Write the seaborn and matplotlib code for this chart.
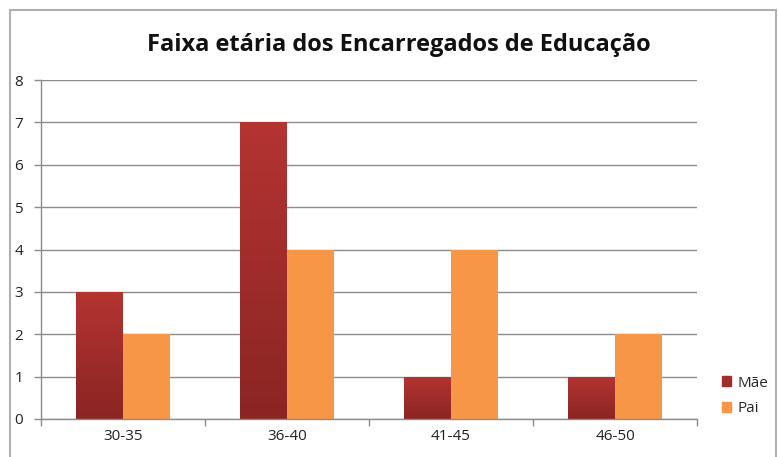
import matplotlib
matplotlib.use("Agg")
import matplotlib.pyplot as plt
import matplotlib.patches as mpatches
from matplotlib.colors import LinearSegmentedColormap
import numpy as np
import pandas as pd
import seaborn as sns

categories = ["30-35", "36-40", "41-45", "46-50"]
mae = [3, 7, 1, 1]
pai = [2, 4, 4, 2]
series_names = ["Mãe", "Pai"]
title = "Faixa etária dos Encarregados de Educação"

df = pd.DataFrame({
    "Faixa": categories * 2,
    "Valor": mae + pai,
    "Série": [series_names[0]] * len(categories) + [series_names[1]] * len(categories),
})

sns.set_theme(style="white")
plt.rcParams["font.family"] = ["Open Sans", "DejaVu Sans"]

fig = plt.figure(figsize=(7.78, 4.57), dpi=100)
ax = fig.add_axes([41 / 778, 1 - 419 / 457, 656 / 778, 339 / 457])

palette = {"Mãe": "#A02D2A", "Pai": "#F79646"}
sns.barplot(data=df, x="Faixa", y="Valor", hue="Série", palette=palette,
            width=0.57, ax=ax, legend=False, saturation=1, edgecolor="none")

# gradient on Mãe bars
grad = np.linspace(0, 1, 256).reshape(-1, 1)
cmap = LinearSegmentedColormap.from_list("mae", ["#8A2523", "#B43431"])
n = len(categories)
for p in ax.patches[:n]:
    x0, y0 = p.get_x(), p.get_y()
    w, h = p.get_width(), p.get_height()
    im = ax.imshow(grad, cmap=cmap, extent=[x0, x0 + w, y0, y0 + h],
                   origin="lower", aspect="auto", zorder=p.get_zorder() + 0.1)
    im.set_clip_path(p)

ax.set_xlim(-0.5, n - 0.5)
ax.set_ylim(0, 8)
ax.set_yticks(range(0, 9))
ax.set_xlabel("")
ax.set_ylabel("")
ax.yaxis.grid(True, color="#8c8c8c", linewidth=1)
ax.set_axisbelow(True)
for s in ["top", "right"]:
    ax.spines[s].set_visible(False)
for s in ["left", "bottom"]:
    ax.spines[s].set_color("#8c8c8c")
    ax.spines[s].set_linewidth(1)

ax.tick_params(axis="y", which="major", length=5, width=1, color="#8c8c8c",
               labelsize=11, labelcolor="#222222", pad=8, left=True)
ax.tick_params(axis="x", which="major", length=0, labelsize=11,
               labelcolor="#222222", pad=7)
ax.set_xticks(np.arange(-0.5, n), minor=True)
ax.tick_params(axis="x", which="minor", length=5, width=1, color="#8c8c8c", bottom=True)

fig.text(0.513, 1 - 45 / 457, title, ha="center", va="center",
         fontsize=17, fontweight="bold", color="#111111")

handles = [mpatches.Patch(color="#A02D2A", label="Mãe"),
           mpatches.Patch(color="#F79646", label="Pai")]
fig.legend(handles=handles, loc="center left", bbox_to_anchor=(708 / 778, 1 - 396 / 457),
           frameon=False, fontsize=11, handlelength=0.6, handleheight=0.6,
           handletextpad=0.4, labelspacing=0.7)

# outer frame
frame = mpatches.Rectangle((10 / 778, -0.1), 766 / 778, 1.1 - 10 / 457,
                           transform=fig.transFigure, fill=False,
                           edgecolor="#b0b0b0", linewidth=1.5)
fig.patches.append(frame)

fig.savefig("out.png", dpi=100, facecolor="white")
